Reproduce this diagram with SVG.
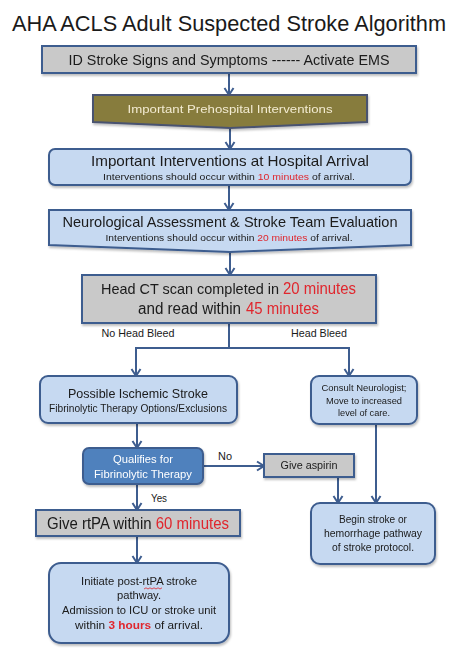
<svg xmlns="http://www.w3.org/2000/svg" width="474" height="661" viewBox="0 0 474 661">
<style>
text{font-family:"Liberation Sans",Arial,sans-serif;fill:#1a1a1a;text-anchor:middle}
.st{text-anchor:start}
.gray{fill:#c9c9c9;stroke:#3e5d8f;stroke-width:2}
.blue{fill:#c6d9f1;stroke:#3e5d8f;stroke-width:2}
.mid{fill:#4f81bd;stroke:#3e5d8f;stroke-width:2}
.olive{fill:#877b3d;stroke:#4a5370;stroke-width:2}
.red{fill:#e0262d}
.wt{fill:#ffffff}
.conn{fill:none;stroke:#3e5d8f;stroke-width:2}
</style>
<defs>
<marker id="ah" markerUnits="userSpaceOnUse" markerWidth="12" markerHeight="12" refX="10" refY="6" orient="auto">
<path d="M3,1.5 L10,6 L3,10.5" fill="none" stroke="#3e5d8f" stroke-width="2"/>
</marker>
<filter id="sh" x="-10%" y="-10%" width="120%" height="130%">
<feDropShadow dx="1" dy="2" stdDeviation="1.2" flood-color="#000" flood-opacity="0.25"/>
</filter>
</defs>
<rect width="474" height="661" fill="#ffffff"/>
<text x="229" y="31" font-size="22" textLength="434" lengthAdjust="spacingAndGlyphs">AHA ACLS Adult Suspected Stroke Algorithm</text>

<g id="connectors" class="conn">
<line x1="229" y1="73" x2="229" y2="95" marker-end="url(#ah)"/>
<line x1="230" y1="128" x2="230" y2="149" marker-end="url(#ah)"/>
<line x1="229" y1="185" x2="229" y2="210" marker-end="url(#ah)"/>
<line x1="230" y1="252" x2="230" y2="275" marker-end="url(#ah)"/>
<polyline points="229,323 229,348"/>
<polyline points="136,348 349,348"/>
<line x1="136" y1="347" x2="136" y2="376" marker-end="url(#ah)"/>
<line x1="349" y1="347" x2="349" y2="376" marker-end="url(#ah)"/>
<line x1="137" y1="423" x2="137" y2="448" marker-end="url(#ah)"/>
<line x1="203" y1="466" x2="264" y2="466" marker-end="url(#ah)"/>
<line x1="338" y1="477" x2="338" y2="503" marker-end="url(#ah)"/>
<line x1="376" y1="424" x2="376" y2="503" marker-end="url(#ah)"/>
<line x1="137" y1="484" x2="137" y2="510" marker-end="url(#ah)"/>
<line x1="137" y1="536" x2="137" y2="563" marker-end="url(#ah)"/>
</g>

<g id="labels">
<text x="138" y="337" font-size="11" textLength="73" lengthAdjust="spacingAndGlyphs">No Head Bleed</text>
<text x="319" y="337" font-size="11" textLength="56" lengthAdjust="spacingAndGlyphs">Head Bleed</text>
<text x="225" y="460" font-size="11" textLength="14" lengthAdjust="spacingAndGlyphs">No</text>
<text x="159" y="502" font-size="11" textLength="16" lengthAdjust="spacingAndGlyphs">Yes</text>
</g>

<g id="n1" filter="url(#sh)">
<rect class="gray" x="42" y="46" width="374" height="27"/>
<text x="229" y="65" font-size="15" textLength="321" lengthAdjust="spacingAndGlyphs">ID Stroke Signs and Symptoms ------ Activate EMS</text>
</g>

<g id="n2" filter="url(#sh)">
<polygon class="olive" points="93,95 367,95 367,122 230,128 93,122"/>
<text x="230" y="113" font-size="11.5" style="fill:#f3ecd2" textLength="205" lengthAdjust="spacingAndGlyphs">Important Prehospital Interventions</text>
</g>

<g id="n3" filter="url(#sh)">
<rect class="blue" x="49" y="149" width="362" height="36" rx="6"/>
<text x="230" y="166" font-size="15" textLength="278" lengthAdjust="spacingAndGlyphs">Important Interventions at Hospital Arrival</text>
<text x="229" y="180" font-size="9" textLength="252" lengthAdjust="spacingAndGlyphs">Interventions should occur  within <tspan class="red">10 minutes</tspan> of arrival.</text>
</g>

<g id="n4" filter="url(#sh)">
<polygon class="blue" points="49,210 411,210 411,245 230,252 49,245"/>
<text x="230" y="227" font-size="15" textLength="335" lengthAdjust="spacingAndGlyphs">Neurological Assessment &amp; Stroke Team Evaluation</text>
<text x="229" y="241" font-size="9" textLength="247" lengthAdjust="spacingAndGlyphs">Interventions should occur within <tspan class="red">20 minutes</tspan> of arrival.</text>
</g>

<g id="n5" filter="url(#sh)">
<rect class="gray" x="82" y="275" width="294" height="48"/>
<text class="st" x="101" y="294" font-size="14.6" textLength="178" lengthAdjust="spacingAndGlyphs">Head CT scan completed in</text>
<text class="st red" x="283" y="294" font-size="16" textLength="73" lengthAdjust="spacingAndGlyphs">20 minutes</text>
<text class="st" x="138" y="314" font-size="16" textLength="103" lengthAdjust="spacingAndGlyphs">and read within</text>
<text class="st red" x="246" y="314" font-size="16" textLength="73" lengthAdjust="spacingAndGlyphs">45 minutes</text>
</g>

<g id="n6" filter="url(#sh)">
<rect class="blue" x="40" y="376" width="197" height="47" rx="8"/>
<text x="138" y="398" font-size="13" textLength="140" lengthAdjust="spacingAndGlyphs">Possible Ischemic Stroke</text>
<text x="138" y="412" font-size="10" textLength="178" lengthAdjust="spacingAndGlyphs">Fibrinolytic Therapy Options/Exclusions</text>
</g>

<g id="n7" filter="url(#sh)">
<rect class="blue" x="311" y="376" width="106" height="48" rx="8"/>
<text x="364" y="391" font-size="9.5" textLength="85" lengthAdjust="spacingAndGlyphs">Consult Neurologist;</text>
<text x="364" y="404" font-size="9.5" textLength="76" lengthAdjust="spacingAndGlyphs">Move to increased</text>
<text x="364" y="416" font-size="9.5" textLength="52" lengthAdjust="spacingAndGlyphs">level of care.</text>
</g>

<g id="n8" filter="url(#sh)">
<rect class="mid" x="83" y="448" width="120" height="36" rx="6"/>
<text class="wt" x="143" y="463" font-size="11" textLength="60" lengthAdjust="spacingAndGlyphs">Qualifies for</text>
<text class="wt" x="143" y="478" font-size="11" textLength="98" lengthAdjust="spacingAndGlyphs">Fibrinolytic Therapy</text>
</g>

<g id="n9" filter="url(#sh)">
<rect class="gray" x="264" y="454" width="90" height="23"/>
<text x="309" y="469" font-size="11" textLength="57" lengthAdjust="spacingAndGlyphs">Give aspirin</text>
</g>

<g id="n10" filter="url(#sh)">
<rect class="blue" x="311" y="503" width="124" height="61" rx="9"/>
<text x="373" y="523" font-size="10" textLength="68" lengthAdjust="spacingAndGlyphs">Begin stroke or</text>
<text x="373" y="537" font-size="10" textLength="98" lengthAdjust="spacingAndGlyphs">hemorrhage pathway</text>
<text x="373" y="551" font-size="10" textLength="82" lengthAdjust="spacingAndGlyphs">of stroke protocol.</text>
</g>

<g id="n11" filter="url(#sh)">
<rect class="gray" x="36" y="510" width="204" height="26"/>
<text x="138" y="529" font-size="16" textLength="182" lengthAdjust="spacingAndGlyphs">Give rtPA within <tspan class="red">60 minutes</tspan></text>
</g>

<g id="n12" filter="url(#sh)">
<rect class="blue" x="49" y="563" width="180" height="80" rx="12"/>
<text x="139" y="585" font-size="10.5" textLength="116" lengthAdjust="spacingAndGlyphs">Initiate post-rtPA stroke</text>
<path d="M144,589 l2,-1.2 l2,1.2 l2,-1.2 l2,1.2 l2,-1.2 l2,1.2 l2,-1.2 l2,1.2 l2,-1.2" fill="none" stroke="#e0262d" stroke-width="0.8"/>
<text x="139" y="599" font-size="10.5" textLength="44" lengthAdjust="spacingAndGlyphs">pathway.</text>
<text x="139" y="614" font-size="10.5" textLength="154" lengthAdjust="spacingAndGlyphs">Admission to ICU or stroke unit</text>
<text x="139" y="629" font-size="10.5" textLength="128" lengthAdjust="spacingAndGlyphs">within <tspan class="red" font-weight="bold">3 hours</tspan> of arrival.</text>
</g>
</svg>
